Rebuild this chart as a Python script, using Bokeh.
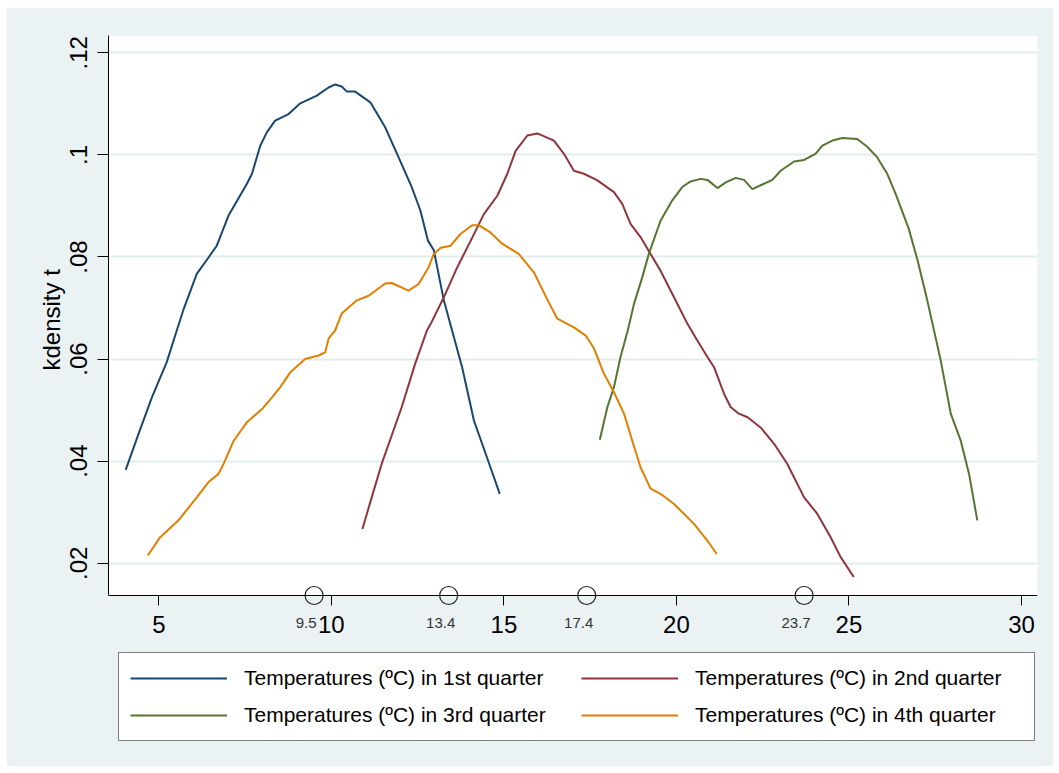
from bokeh.plotting import figure
from bokeh.models import (Range1d, FixedTicker, Legend, LegendItem, LabelSet,
                          ColumnDataSource, BoxAnnotation, Title)
from bokeh.core.properties import value
from bokeh.embed import file_html
from bokeh.resources import INLINE

# Kernel density estimates of temperature, one curve per quarter
q1_x = [4.04, 4.41, 4.80, 5.23, 5.52, 5.72, 6.10, 6.44, 6.68, 7.02, 7.55, 7.70, 7.94,
        8.13, 8.37, 8.76, 9.10, 9.58, 9.92, 10.11, 10.30, 10.45, 10.69, 11.13, 11.56,
        11.95, 12.33, 12.58, 12.80, 12.97, 13.26, 13.55, 13.79, 14.13, 14.37, 14.61, 14.88]
q1_y = [0.0383, 0.0453, 0.0525, 0.0594, 0.0656, 0.0698, 0.0767, 0.0799, 0.0822, 0.0881,
        0.0943, 0.0963, 0.1018, 0.1044, 0.1067, 0.1080, 0.1101, 0.1116, 0.1132, 0.1138,
        0.1134, 0.1124, 0.1124, 0.1103, 0.1054, 0.0995, 0.0937, 0.0891, 0.0832, 0.0813,
        0.0715, 0.0643, 0.0584, 0.0480, 0.0434, 0.0388, 0.0336]

q2_x = [10.90, 11.17, 11.46, 11.80, 12.04, 12.43, 12.77, 12.88, 13.26, 13.65, 14.04,
        14.42, 14.81, 15.10, 15.34, 15.68, 15.97, 16.45, 16.74, 17.03, 17.32, 17.71,
        18.19, 18.43, 18.67, 18.96, 19.25, 19.54, 19.93, 20.32, 20.61, 20.90, 21.09,
        21.38, 21.57, 21.81, 22.06, 22.44, 22.83, 23.21, 23.70, 24.08, 24.47, 24.76, 25.14]
q2_y = [0.0267, 0.0329, 0.0395, 0.0460, 0.0506, 0.0591, 0.0656, 0.0669, 0.0721, 0.0780,
        0.0832, 0.0884, 0.0920, 0.0963, 0.1008, 0.1038, 0.1042, 0.1028, 0.1002, 0.0969,
        0.0963, 0.0950, 0.0927, 0.0904, 0.0865, 0.0839, 0.0806, 0.0773, 0.0721, 0.0669,
        0.0636, 0.0604, 0.0584, 0.0532, 0.0506, 0.0493, 0.0486, 0.0466, 0.0434, 0.0395,
        0.0329, 0.0297, 0.0251, 0.0212, 0.0173]

q3_x = [17.78, 18.00, 18.19, 18.38, 18.59, 18.77, 19.01, 19.20, 19.54, 19.88, 20.17,
        20.41, 20.70, 20.90, 21.19, 21.43, 21.72, 21.96, 22.20, 22.49, 22.78, 23.02,
        23.41, 23.70, 24.03, 24.23, 24.52, 24.81, 25.24, 25.53, 25.82, 26.11, 26.35,
        26.50, 26.73, 26.99, 27.27, 27.66, 27.95, 28.24, 28.48, 28.72]
q3_y = [0.0442, 0.0506, 0.0545, 0.0604, 0.0656, 0.0708, 0.0760, 0.0806, 0.0871, 0.0911,
        0.0937, 0.0948, 0.0953, 0.0951, 0.0935, 0.0946, 0.0955, 0.0951, 0.0933, 0.0942,
        0.0951, 0.0969, 0.0987, 0.0990, 0.1002, 0.1018, 0.1028, 0.1033, 0.1031, 0.1016,
        0.0995, 0.0963, 0.0924, 0.0897, 0.0856, 0.0793, 0.0715, 0.0597, 0.0493, 0.0440,
        0.0375, 0.0284]

q4_x = [4.68, 5.04, 5.57, 6.10, 6.44, 6.73, 6.88, 7.17, 7.55, 7.99, 8.28, 8.52, 8.81,
        9.24, 9.63, 9.82, 9.92, 10.11, 10.30, 10.74, 11.08, 11.56, 11.75, 12.24, 12.53,
        12.82, 12.97, 13.17, 13.46, 13.74, 14.08, 14.28, 14.61, 14.95, 15.43, 15.87,
        16.30, 16.55, 17.03, 17.37, 17.61, 17.90, 18.19, 18.48, 18.72, 18.96, 19.25,
        19.54, 19.93, 20.51, 20.90, 21.17]
q4_y = [0.0215, 0.0251, 0.0284, 0.0329, 0.0359, 0.0375, 0.0395, 0.0440, 0.0476, 0.0502,
        0.0525, 0.0545, 0.0574, 0.0600, 0.0607, 0.0613, 0.0640, 0.0656, 0.0689, 0.0715,
        0.0724, 0.0748, 0.0749, 0.0734, 0.0747, 0.0780, 0.0806, 0.0818, 0.0822, 0.0845,
        0.0862, 0.0862, 0.0848, 0.0826, 0.0806, 0.0770, 0.0711, 0.0679, 0.0662, 0.0646,
        0.0621, 0.0571, 0.0535, 0.0493, 0.0440, 0.0388, 0.0346, 0.0336, 0.0316, 0.0277,
        0.0244, 0.0218]

series_names = ["Temperatures (ºC) in 1st quarter", "Temperatures (ºC) in 2nd quarter",
                "Temperatures (ºC) in 3rd quarter", "Temperatures (ºC) in 4th quarter"]
series_colors = ["#1A476F", "#90353B", "#55752F", "#E37E00"]

# Quarter means marked on the horizontal axis
mean_values = [9.5, 13.4, 17.4, 23.7]
mean_labels = ["9.5", "13.4", "17.4", "23.7"]

x_ticks = [5, 10, 15, 20, 25, 30]
y_ticks = [0.02, 0.04, 0.06, 0.08, 0.10, 0.12]
y_tick_labels = [".02", ".04", ".06", ".08", ".1", ".12"]
y_title = "kdensity t"

BG = "#EAF2F3"
GRID = "#E2EBEE"
FONT = "Liberation Sans"

x_lo, x_hi = 3.542, 30.464
y_lo, y_hi = -0.01787, 0.12339
axis_floor = 0.013672

p = figure(width=1047, height=759,
           x_range=Range1d(x_lo, x_hi), y_range=Range1d(y_lo, y_hi),
           output_backend="svg", toolbar_location=None,
           min_border_left=102, min_border_right=16,
           min_border_top=28, min_border_bottom=10)
p.margin = (7, 0, 0, 6)
p.background_fill_color = BG
p.border_fill_color = BG
p.outline_line_color = None

# white plotting area above the x axis line
p.add_layout(BoxAnnotation(bottom=axis_floor, fill_color="white", fill_alpha=1.0,
                           line_alpha=0, line_color=None, level="image"))

p.xgrid.visible = False
p.ygrid.ticker = FixedTicker(ticks=y_ticks)
p.ygrid.grid_line_color = GRID
p.ygrid.grid_line_width = 2

xa = p.xaxis[0]
xa.ticker = FixedTicker(ticks=x_ticks)
xa.fixed_location = axis_floor
xa.major_tick_out = 10
xa.major_tick_in = 0
xa.minor_tick_out = 0
xa.minor_tick_in = 0
xa.major_label_text_font = FONT
xa.major_label_text_font_size = "24px"
xa.major_label_text_color = "black"
xa.major_label_standoff = 10
xa.axis_line_color = "black"
xa.major_tick_line_color = "black"

ya = p.yaxis[0]
ya.ticker = FixedTicker(ticks=y_ticks)
ya.major_label_overrides = {t: s for t, s in zip(y_ticks, y_tick_labels)}
ya.bounds = (axis_floor, y_hi)
ya.major_label_orientation = "vertical"
ya.major_tick_out = 11
ya.major_tick_in = 0
ya.minor_tick_out = 0
ya.minor_tick_in = 0
ya.major_label_text_font = FONT
ya.major_label_text_font_size = "24px"
ya.major_label_text_color = "black"
ya.major_label_standoff = 10
ya.axis_line_color = "black"
ya.major_tick_line_color = "black"

# axis title, anchored at its lower end so it sits beside the plotted band
p.add_layout(Title(text=y_title, align="left", offset=386, standoff=6,
                   text_font=FONT, text_font_size="24px", text_font_style="normal",
                   text_color="black"), "left")

renderers = []
for xs, ys, c in zip([q1_x, q2_x, q3_x, q4_x], [q1_y, q2_y, q3_y, q4_y], series_colors):
    renderers.append(p.line(xs, ys, line_color=c, line_width=2))

floor_y = [axis_floor] * len(mean_values)
p.scatter(mean_values, floor_y, marker="circle", size=18, fill_color=None,
          line_color="#1a1a1a", line_width=1.2)

lab_src = ColumnDataSource(dict(x=mean_values, y=floor_y, text=mean_labels))
p.add_layout(LabelSet(x="x", y="y", text="text", source=lab_src, x_offset=-8, y_offset=-27,
                      text_align="center", text_baseline="middle",
                      text_font=value(FONT), text_font_size=value("15px"),
                      text_color="#333333"))

# keep the left edge of the strip below the x axis clean
p.add_layout(BoxAnnotation(top=axis_floor - 0.0003, right=x_lo + 0.09, fill_color=BG,
                           fill_alpha=1.0, line_alpha=0, line_color=None,
                           level="annotation"))

# legend laid out in two columns; entries fill column by column
legend_order = [0, 2, 1, 3]
legend = Legend(items=[LegendItem(label=series_names[i], renderers=[renderers[i]])
                       for i in legend_order],
                location=(10, 15), ncols=2,
                glyph_width=97, glyph_height=28, label_height=28, label_width=328,
                label_standoff=17, spacing=9, padding=11,
                label_text_font=FONT, label_text_font_size="21px", label_text_color="black",
                border_line_color="black", border_line_width=1,
                background_fill_color="white", background_fill_alpha=1.0)
p.add_layout(legend)

open("out.html", "w").write(file_html(p, INLINE))
